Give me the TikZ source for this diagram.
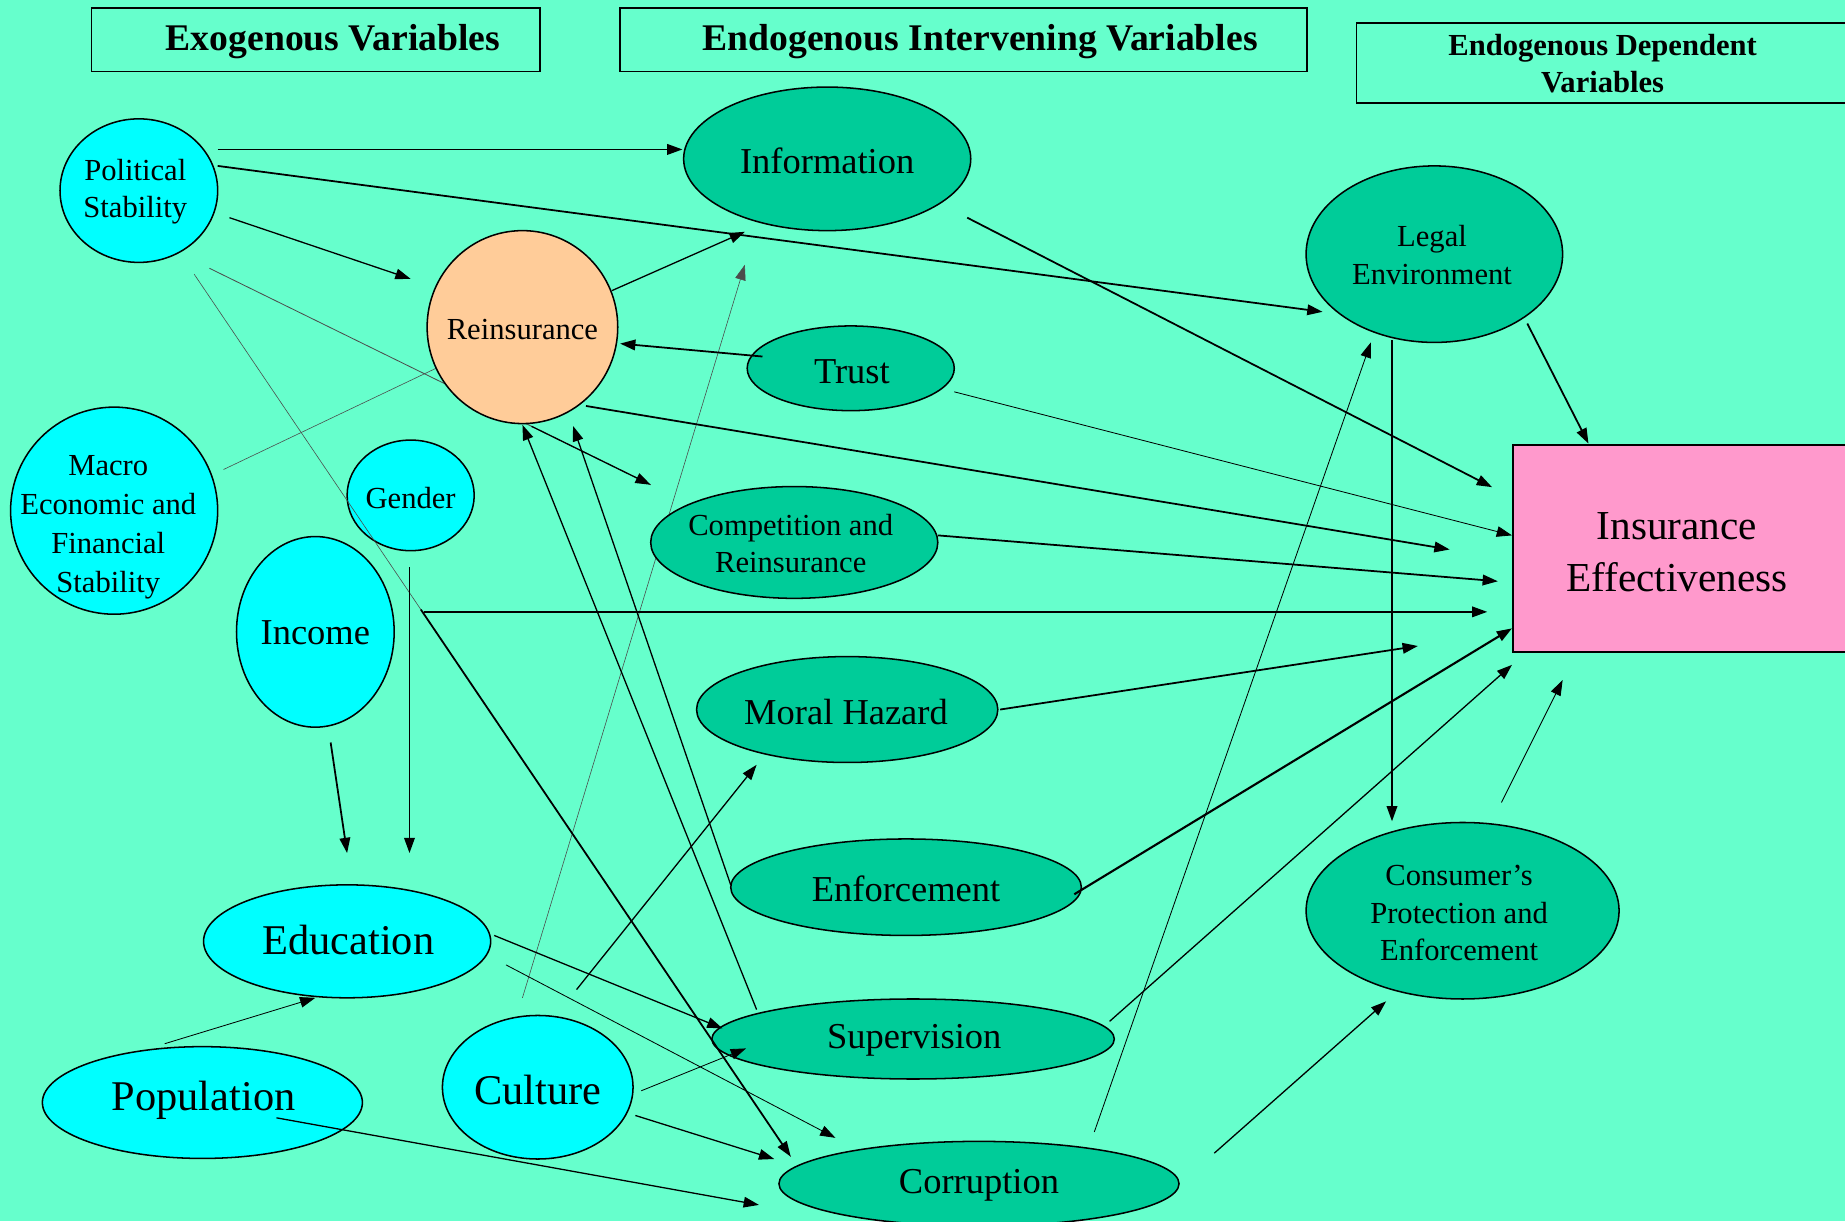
\documentclass[tikz,border=0pt]{standalone}
\usepackage{fontspec}
\setmainfont{Liberation Serif}
\usetikzlibrary{shapes.geometric,arrows.meta,calc}
\pgfdeclarelayer{bg}
\pgfdeclarelayer{behind}
\pgfsetlayers{bg,behind,main}
\definecolor{paper}{HTML}{66FFCC}
\definecolor{exofill}{HTML}{00FFFF}
\definecolor{endofill}{HTML}{00CC99}
\definecolor{reinsfill}{HTML}{FFCC99}
\definecolor{targetfill}{HTML}{FF99CC}
\tikzset{
  var/.style={ellipse, draw=black, line width=1.3pt, inner sep=0pt},
  exovar/.style={var, fill=exofill},
  endovar/.style={var, fill=endofill},
  hdrbox/.style={draw=black, line width=1.6pt, inner sep=0pt, anchor=north west},
  lbl/.style={align=center, inner sep=0pt},
  fsmall/.style={font=\fontsize{26}{32}\selectfont},
  fmid/.style={font=\fontsize{31}{36}\selectfont},
  fbig/.style={font=\fontsize{36}{42}\selectfont},
  ftarget/.style={font=\fontsize{35}{44}\selectfont},
  fhead/.style={font=\bfseries\fontsize{32}{36}\selectfont},
  fheadsmall/.style={font=\bfseries\fontsize{26}{32}\selectfont},
  tip/.style={-{Triangle[length=13pt,width=9pt]}},
  arr/.style={tip, line width=1.5pt},
  arrthick/.style={tip, line width=1.8pt},
  arrm/.style={tip, line width=1.1pt},
  arrt/.style={tip, line width=0.7pt},
  faint/.style={line width=0.5pt, draw=black!70},
}
\begin{document}
\begin{tikzpicture}[x=1pt,y=-1pt]
\useasboundingbox (0,0) rectangle (1568,1038);
\begin{pgfonlayer}{bg}
  \fill[paper] (0,0) rectangle (1568,1038);
\end{pgfonlayer}
\clip (0,0) rectangle (1568,1038);

% column headings
\node[hdrbox, minimum width=381pt, minimum height=54pt] (hexo) at (77,6) {};
\node[lbl, fhead] (hexo-t) at (283,35) {Exogenous Variables};
\node[hdrbox, minimum width=584pt, minimum height=54pt] (hint) at (526,6) {};
\node[lbl, fhead] (hint-t) at (833,35) {Endogenous Intervening Variables};
\node[hdrbox, minimum width=440pt, minimum height=68pt] (hdep) at (1152,19) {};
\node[lbl, fheadsmall] (hdep-t) at (1362,54) {Endogenous Dependent\\Variables};

% exogenous variables
\node[exovar, minimum width=134pt, minimum height=122pt] (pol) at (118,162) {};
\node[lbl, fsmall] (pol-t) at (115,163) {Political\\Stability};
\node[exovar, minimum width=176pt, minimum height=176pt] (macro) at (97,434) {};
\node[lbl, fsmall, font=\fontsize{26}{33}\selectfont] (macro-t) at (92,448) {Macro\\Economic and\\Financial\\Stability};
\node[exovar, minimum width=108pt, minimum height=94pt] (gender) at (349,421) {};
\node[lbl, fsmall] (gender-t) at (349,423) {Gender};
\node[exovar, minimum width=134pt, minimum height=162pt] (income) at (268,537) {};
\node[lbl, fmid] (income-t) at (268,538) {Income};
\node[exovar, minimum width=244pt, minimum height=96pt] (edu) at (295,800) {};
\node[lbl, fbig] (edu-t) at (296,799) {Education};
\node[exovar, minimum width=272pt, minimum height=95pt] (pop) at (172,937) {};
\node[lbl, fbig] (pop-t) at (173,935) {Population};
\node[exovar, minimum width=162pt, minimum height=122pt] (cult) at (457,924) {};
\node[lbl, fbig] (cult-t) at (457,926) {Culture};

% intervening variables
\node[endovar, minimum width=244pt, minimum height=122pt] (info) at (703,135) {};
\node[lbl, fmid] (info-t) at (703,137) {Information};
\node[var, fill=reinsfill, minimum width=162pt, minimum height=164pt] (reins) at (444,278) {};
\node[lbl, fsmall] (reins-t) at (444,280) {Reinsurance};
\node[endovar, minimum width=176pt, minimum height=72pt] (trust) at (723,313) {};
\node[lbl, fmid] (trust-t) at (724,316) {Trust};
\node[endovar, minimum width=244pt, minimum height=95pt] (comp) at (675,461) {};
\node[lbl, fsmall] (comp-t) at (672,462) {Competition and\\Reinsurance};
\node[endovar, minimum width=256pt, minimum height=90pt] (moral) at (720,603) {};
\node[lbl, fmid] (moral-t) at (719,605) {Moral Hazard};
\node[endovar, minimum width=298pt, minimum height=82pt] (enf) at (770,754) {};
\node[lbl, fmid] (enf-t) at (770,755) {Enforcement};
\node[endovar, minimum width=342pt, minimum height=68pt] (sup) at (776,883) {};
\node[lbl, fmid] (sup-t) at (777,884) {Supervision};
\node[endovar, minimum width=340pt, minimum height=72pt] (corr) at (832,1006) {};
\node[lbl, fmid] (corr-t) at (832,1007) {Corruption};

% dependent variables
\node[endovar, minimum width=218pt, minimum height=150pt] (legal) at (1219,216) {};
\node[lbl, fsmall] (legal-t) at (1217,217) {Legal\\Environment};
\node[endovar, minimum width=266pt, minimum height=150pt] (cons) at (1243,774) {};
\node[lbl, fsmall] (cons-t) at (1240,776) {Consumer’s\\Protection and\\Enforcement};
\node[draw=black, line width=1.3pt, fill=targetfill, inner sep=0pt,
      minimum width=314pt, minimum height=176pt] (ins) at (1443,466) {};
\node[lbl, ftarget] (ins-t) at (1425,469) {Insurance\\Effectiveness};

% links that pass beneath the ellipses
\begin{pgfonlayer}{behind}
  \draw[faint] ($(macro)+(93,-35)$) -- (reins.center);
  \draw[faint, line width=0.7pt] ($(pol)+(60,66)$) -- ($(comp)+(-122,-49)$);
  \draw[faint, tip] ($(cult)+(-13,-76)$) -- ($(info)+(-70,90)$);
\end{pgfonlayer}
\draw[arrm] ($($(pol)+(60,66)$)!0.73!($(comp)+(-122,-49)$)$) -- ($(comp)+(-122,-49)$);

% links from the exogenous variables
\draw[arr] ($(pol)+(67,-35)$) -- ($(info)+(-123,-8)$);
\draw[arr] ($(pol)+(67,-21)$) -- ($(legal)+(-95,49)$);
\draw[arrm] ($(pol)+(77,23)$) -- ($(reins)+(-95,-41)$);
\draw[faint] ($(pol)+(47,71)$) -- ($(corr)+(-160,-23)$);
\draw[arr] ($($(pol)+(47,71)$)!0.38!($(corr)+(-160,-23)$)$) -- ($(corr)+(-160,-23)$);
\draw[arr] ($(income)+(92,-17)$) -- ($(ins)+(-179,54)$);
\draw[arr] ($(income)+(13,94)$) -- ($(edu)+(0,-75)$);
\draw[arr] ($(gender)+(-1,61)$) -- ($(edu)+(53,-75)$);
\draw[arrt] ($(pop)+(-32,-50)$) -- ($(edu)+(-27,48)$);
\draw[arrm] ($(pop)+(63,13)$) -- ($(corr)+(-187,18)$);
\draw[arrm] ($(edu)+(125,-5)$) -- ($(sup)+(-162,-9)$);
\draw[arrt] ($(edu)+(135,20)$) -- ($(corr)+(-122,-39)$);
\draw[arrt] ($(cult)+(88,3)$) -- ($(sup)+(-142,8)$);
\draw[arrm] ($(cult)+(83,24)$) -- ($(corr)+(-174,-21)$);
\draw[arrm] ($(cult)+(33,-83)$) -- ($(moral)+(-77,47)$);

% links among the intervening variables
\draw[arrm] ($(reins)+(76,-31)$) -- ($(info)+(-70,62)$);
\draw[arr] ($(trust)+(-75,-10)$) -- ($(reins)+(83,14)$);
\draw[arrm] ($(sup)+(-133,-25)$) -- ($(reins)+(0,83)$);
\draw[arrm] ($(enf)+(-149,-2)$) -- ($(reins)+(43,84)$);

% links into the dependent variables
\draw[arr] ($(reins)+(54,67)$) -- ($(ins)+(-211,1)$);
\draw[arr] ($(info)+(119,50)$) -- ($(ins)+(-175,-52)$);
\draw[arrt] ($(trust)+(88,20)$) -- ($(ins)+(-158,-11)$);
\draw[arr] ($(legal)+(79,59)$) -- ($(ins)+(-93,-89)$);
\draw[arr] ($(legal)+(-36,73)$) -- ($(cons)+(-60,-76)$);
\draw[arr] ($(comp)+(122,-6)$) -- ($(ins)+(-170,28)$);
\draw[arr] ($(moral)+(130,0)$) -- ($(ins)+(-238,83)$);
\draw[arrthick] ($(enf)+(143,6)$) -- ($(ins)+(-158,68)$);
\draw[arrm] ($(sup)+(167,-15)$) -- ($(ins)+(-158,99)$);
\draw[arrt] ($(corr)+(98,-44)$) -- ($(legal)+(-54,75)$);
\draw[arrm] ($(corr)+(200,-26)$) -- ($(cons)+(-65,77)$);
\draw[arrt] ($(cons)+(33,-92)$) -- ($(ins)+(-115,112)$);
\end{tikzpicture}
\end{document}
